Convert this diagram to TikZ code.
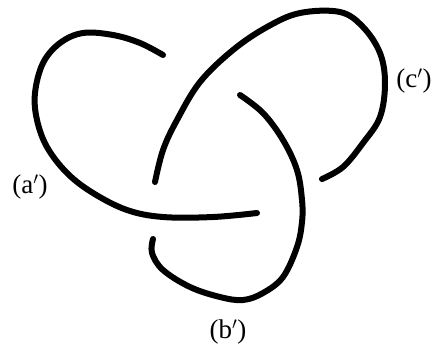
\documentclass[tikz,border=0pt]{standalone}
\usepackage{fontspec}
\setmainfont{Liberation Serif}
\usepackage{tikz}
\usetikzlibrary{positioning}

\tikzset{
  strand/.style={line width=6pt, line cap=round, line join=round},
  lbl/.style={font=\fontsize{27}{30}\selectfont, inner sep=0pt}
}

\begin{document}
\begin{tikzpicture}[x=1pt, y=-1pt]
    \useasboundingbox (0,0) rectangle (436,346);
    % left loop, strand (a')
    \draw[strand] plot[smooth, tension=0.6] coordinates {(163,55) (140,43) (113,35) (83,33) (60,43) (43,63) (35,93) (37,120) (47,147) (67,173) (93,193) (127,210) (163,217) (213,217) (257,213)};
    % big upper loop, strand (c')
    \draw[strand] plot[smooth, tension=0.6] coordinates {(155,182) (163,150) (177,120) (200,82) (233,50) (267,27) (300,13) (340,12) (363,27) (380,53) (385,83) (380,117) (363,143) (343,167) (322,179)};
    % lower loop, strand (b')
    \draw[strand] plot[smooth, tension=0.6] coordinates {(240,95) (263,113) (283,140) (297,170) (302,200) (302,222) (297,247) (283,277) (263,293) (243,300) (220,297) (190,287) (163,270) (152,253) (153,239)};
    % labels
    \node[lbl] (alab) at (30,187) {(a$'$)};
    \node[lbl] (blab) at (228,332) {(b$'$)};
    \node[lbl] (clab) at (414,81) {(c$'$)};
\end{tikzpicture}
\end{document}
